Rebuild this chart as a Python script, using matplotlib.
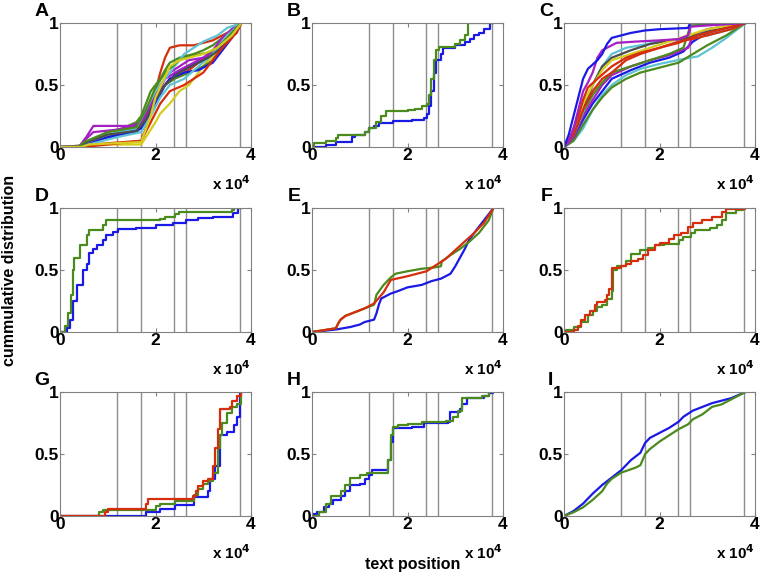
import matplotlib
matplotlib.use("Agg")
import matplotlib.pyplot as plt

plt.rcParams['font.family'] = ['Liberation Sans', 'DejaVu Sans']
plt.rcParams['font.weight'] = 'bold'

BLUE = '#1a1ae6'
GREEN = '#4b8b1e'
RED = '#d62d0c'
CYAN = '#5ec3d3'
PURPLE = '#a51fc4'
YELLOW = '#d6cc1c'
GRAY = '#4d4d4d'

# vertical reference positions (x 10^4)
vlines = [1.2, 1.7, 2.38, 2.64, 3.77]

# ---------------- Panel A ----------------
a1_x = [0, 0.4, 1.0, 1.7, 1.8, 1.9, 2.0, 2.1, 2.2, 2.3, 2.5, 2.8, 3.0, 3.2, 3.4, 3.6, 3.8]
a1_y = [0, 0.01, 0.03, 0.05, 0.15, 0.3, 0.45, 0.6, 0.72, 0.8, 0.82, 0.82, 0.84, 0.86, 0.9, 0.94, 1.0]
a2_x = [0, 0.4, 0.5, 1.0, 1.3, 1.5, 1.7, 1.8, 1.9, 2.0, 2.1, 2.3, 2.5, 2.7, 2.9, 3.1, 3.3, 3.5, 3.7, 3.8]
a2_y = [0, 0, 0.02, 0.08, 0.12, 0.16, 0.2, 0.23, 0.3, 0.38, 0.45, 0.55, 0.58, 0.62, 0.68, 0.72, 0.78, 0.85, 0.92, 1.0]
a3_x = [0, 0.4, 0.6, 1.7, 1.8, 2.0, 2.1, 2.3, 2.5, 2.7, 2.9, 3.1, 3.3, 3.5, 3.6, 3.8]
a3_y = [0, 0, 0.02, 0.02, 0.08, 0.2, 0.27, 0.35, 0.45, 0.5, 0.6, 0.7, 0.75, 0.85, 0.95, 1.0]
a4_x = [0, 0.4, 0.5, 0.8, 1.0, 1.3, 1.6, 1.7, 1.8, 1.9, 2.0, 2.1, 2.2, 2.3, 2.5, 2.8, 3.0, 3.2, 3.4, 3.6, 3.8]
a4_y = [0, 0, 0.02, 0.08, 0.12, 0.15, 0.2, 0.25, 0.35, 0.45, 0.5, 0.55, 0.62, 0.68, 0.72, 0.75, 0.78, 0.82, 0.88, 0.95, 1.0]
a5_x = [0, 0.4, 0.8, 1.2, 1.6, 1.8, 2.0, 2.2, 2.4, 2.7, 3.0, 3.2, 3.4, 3.6, 3.8]
a5_y = [0, 0.01, 0.06, 0.1, 0.15, 0.25, 0.4, 0.5, 0.55, 0.6, 0.65, 0.7, 0.8, 0.9, 1.0]
a6_x = [0, 0.4, 0.5, 0.9, 1.3, 1.7, 1.9, 2.1, 2.3, 2.6, 2.9, 3.2, 3.4, 3.6, 3.8]
a6_y = [0, 0, 0.02, 0.07, 0.1, 0.15, 0.3, 0.45, 0.55, 0.6, 0.62, 0.68, 0.78, 0.88, 1.0]
a7_x = [0, 0.45, 0.6, 1.0, 1.6, 1.8, 2.0, 2.2, 2.4, 2.7, 3.0, 3.2, 3.5, 3.8]
a7_y = [0, 0, 0.03, 0.08, 0.12, 0.2, 0.35, 0.5, 0.58, 0.65, 0.7, 0.75, 0.85, 1.0]
a8_x = [0, 0.4, 0.55, 0.7, 1.5, 1.7, 1.9, 2.1, 2.3, 2.5, 2.7, 3.0, 3.2, 3.4, 3.6, 3.8]
a8_y = [0, 0, 0.08, 0.17, 0.17, 0.2, 0.35, 0.5, 0.6, 0.65, 0.7, 0.72, 0.78, 0.88, 0.95, 1.0]
a9_x = [0, 0.4, 0.5, 0.7, 1.2, 1.7, 2.0, 2.2, 2.5, 2.8, 3.1, 3.4, 3.8]
a9_y = [0, 0, 0.05, 0.12, 0.14, 0.18, 0.4, 0.55, 0.62, 0.68, 0.74, 0.85, 1.0]
a10_x = [0, 0.4, 0.5, 1.0, 1.6, 1.8, 2.0, 2.2, 2.4, 2.6, 2.8, 3.0, 3.3, 3.5, 3.8]
a10_y = [0, 0, 0.03, 0.1, 0.15, 0.3, 0.45, 0.55, 0.65, 0.75, 0.8, 0.85, 0.9, 0.96, 1.0]
a11_x = [0, 0.45, 0.6, 1.2, 1.7, 1.9, 2.1, 2.3, 2.6, 2.9, 3.2, 3.5, 3.8]
a11_y = [0, 0, 0.02, 0.08, 0.12, 0.25, 0.4, 0.5, 0.55, 0.65, 0.75, 0.9, 1.0]
a12_x = [0, 0.4, 0.5, 1.0, 1.6, 1.8, 2.0, 2.2, 2.5, 2.8, 3.1, 3.4, 3.6, 3.8]
a12_y = [0, 0, 0.03, 0.1, 0.13, 0.22, 0.38, 0.5, 0.6, 0.66, 0.72, 0.8, 0.92, 1.0]
a13_x = [0, 0.4, 0.5, 1.0, 1.6, 1.8, 2.0, 2.2, 2.5, 2.8, 3.1, 3.3, 3.6, 3.8]
a13_y = [0, 0, 0.04, 0.12, 0.16, 0.3, 0.48, 0.6, 0.7, 0.74, 0.76, 0.8, 0.92, 1.0]
a14_x = [0, 0.5, 1.0, 1.7, 1.9, 2.1, 2.3, 2.6, 2.8, 3.0, 3.2, 3.4, 3.6, 3.8]
a14_y = [0, 0, 0.02, 0.05, 0.2, 0.35, 0.45, 0.5, 0.55, 0.6, 0.7, 0.8, 0.88, 1.0]
a15_x = [0, 0.45, 0.6, 1.7, 1.9, 2.0, 2.3, 2.5, 2.7, 3.0, 3.3, 3.6, 3.8]
a15_y = [0, 0, 0.02, 0.04, 0.25, 0.4, 0.65, 0.7, 0.72, 0.75, 0.8, 0.9, 1.0]

# ---------------- Panel B ----------------
b_blue_x = [0, 0.3, 0.5, 0.83, 0.9, 1.1, 1.2, 1.3, 1.4, 1.7, 2.1, 2.35, 2.4, 2.45, 2.5, 2.55, 2.6, 2.7, 2.75, 3.0, 3.2, 3.3, 3.4, 3.5, 3.6, 3.72, 3.8]
b_blue_y = [0, 0.02, 0.04, 0.08, 0.1, 0.12, 0.15, 0.17, 0.19, 0.21, 0.22, 0.23, 0.27, 0.33, 0.45, 0.6, 0.7, 0.75, 0.8, 0.82, 0.85, 0.87, 0.9, 0.92, 0.95, 1.0, 1.0]
b_green_x = [0, 0.05, 0.3, 0.5, 0.55, 1.0, 1.1, 1.2, 1.35, 1.45, 1.55, 2.0, 2.15, 2.3, 2.4, 2.45, 2.5, 2.55, 2.6, 2.65, 3.0, 3.1, 3.2, 3.27, 3.8]
b_green_y = [0, 0.03, 0.05, 0.07, 0.1, 0.1, 0.12, 0.15, 0.2, 0.25, 0.29, 0.3, 0.31, 0.33, 0.35, 0.42, 0.55, 0.7, 0.78, 0.81, 0.83, 0.86, 0.9, 1.0, 1.0]

# ---------------- Panel C ----------------
c1_x = [0, 0.1, 0.2, 0.3, 0.4, 0.5, 0.7, 0.8, 0.9, 1.0, 1.2, 1.4, 1.7, 2.0, 2.6, 2.64, 3.8]
c1_y = [0, 0.1, 0.25, 0.4, 0.55, 0.63, 0.7, 0.75, 0.83, 0.88, 0.9, 0.92, 0.94, 0.95, 0.96, 1.0, 1.0]
c2_x = [0, 0.1, 0.2, 0.3, 0.4, 0.5, 0.6, 0.7, 0.8, 1.1, 1.5, 2.0, 2.4, 2.6, 2.65, 3.0, 3.8]
c2_y = [0, 0.05, 0.15, 0.3, 0.45, 0.52, 0.6, 0.72, 0.78, 0.84, 0.85, 0.86, 0.87, 0.9, 0.97, 0.98, 1.0]
c3_x = [0, 0.1, 0.2, 0.3, 0.4, 0.5, 0.7, 1.0, 1.3, 1.6, 2.0, 2.4, 2.8, 3.2, 3.5, 3.8]
c3_y = [0, 0.05, 0.15, 0.25, 0.38, 0.48, 0.55, 0.65, 0.72, 0.76, 0.8, 0.85, 0.88, 0.92, 0.95, 1.0]
c4_x = [0, 0.2, 0.4, 0.6, 0.8, 1.0, 1.3, 1.6, 2.0, 2.4, 2.8, 3.2, 3.8]
c4_y = [0, 0.1, 0.3, 0.45, 0.55, 0.6, 0.7, 0.75, 0.8, 0.84, 0.9, 0.94, 1.0]
c5_x = [0, 0.2, 0.4, 0.6, 0.8, 1.0, 1.4, 1.8, 2.2, 2.6, 3.0, 3.8]
c5_y = [0, 0.12, 0.35, 0.5, 0.62, 0.7, 0.75, 0.8, 0.85, 0.9, 0.95, 1.0]
c6_x = [0, 0.2, 0.4, 0.6, 0.8, 1.0, 1.4, 1.8, 2.2, 2.6, 3.0, 3.8]
c6_y = [0, 0.1, 0.3, 0.5, 0.65, 0.72, 0.78, 0.83, 0.86, 0.88, 0.93, 1.0]
c7_x = [0, 0.2, 0.4, 0.6, 0.8, 1.0, 1.3, 1.6, 2.0, 2.5, 3.0, 3.5, 3.8]
c7_y = [0, 0.1, 0.28, 0.5, 0.65, 0.75, 0.8, 0.82, 0.85, 0.87, 0.9, 0.95, 1.0]
c8_x = [0, 0.2, 0.4, 0.6, 0.8, 1.0, 1.3, 1.6, 2.0, 2.5, 2.8, 3.1, 3.4, 3.8]
c8_y = [0, 0.05, 0.15, 0.3, 0.42, 0.5, 0.58, 0.63, 0.67, 0.71, 0.73, 0.8, 0.88, 1.0]
c9_x = [0, 0.2, 0.4, 0.6, 0.8, 1.0, 1.3, 1.6, 2.0, 2.4, 2.7, 3.0, 3.4, 3.8]
c9_y = [0, 0.05, 0.18, 0.3, 0.4, 0.48, 0.55, 0.6, 0.64, 0.68, 0.75, 0.82, 0.9, 1.0]
c10_x = [0, 0.2, 0.4, 0.6, 0.8, 1.0, 1.4, 1.8, 2.2, 2.5, 2.65, 3.8]
c10_y = [0, 0.1, 0.28, 0.42, 0.52, 0.6, 0.65, 0.7, 0.75, 0.8, 0.98, 1.0]
c11_x = [0, 0.2, 0.4, 0.6, 0.8, 1.0, 1.4, 1.8, 2.2, 2.5, 2.7, 3.0, 3.8]
c11_y = [0, 0.08, 0.22, 0.35, 0.45, 0.55, 0.62, 0.68, 0.72, 0.77, 0.85, 0.92, 1.0]
c12_x = [0, 0.2, 0.4, 0.6, 0.8, 1.0, 1.4, 1.8, 2.2, 2.6, 2.7, 3.0, 3.8]
c12_y = [0, 0.08, 0.25, 0.38, 0.5, 0.58, 0.65, 0.7, 0.74, 0.8, 0.9, 0.95, 1.0]

# ---------------- Panel D ----------------
d_green_x = [0, 0.1, 0.17, 0.22, 0.28, 0.3, 0.42, 0.57, 0.6, 0.9, 0.97, 2.1, 2.2, 2.4, 2.5, 3.6, 3.65, 3.8]
d_green_y = [0, 0.05, 0.15, 0.3, 0.5, 0.6, 0.7, 0.78, 0.82, 0.86, 0.9, 0.91, 0.93, 0.95, 0.97, 0.98, 1.0, 1.0]
d_blue_x = [0, 0.1, 0.14, 0.2, 0.28, 0.36, 0.49, 0.56, 0.6, 0.7, 0.77, 0.9, 0.97, 1.1, 1.22, 1.6, 2.0, 2.37, 2.64, 2.9, 3.2, 3.62, 3.72, 3.8]
d_blue_y = [0, 0.0, 0.03, 0.1, 0.25, 0.38, 0.5, 0.55, 0.64, 0.67, 0.7, 0.74, 0.78, 0.81, 0.83, 0.84, 0.86, 0.88, 0.9, 0.92, 0.93, 0.96, 1.0, 1.0]

# ---------------- Panel E ----------------
e_blue_x = [0, 0.5, 0.8, 1.0, 1.1, 1.3, 1.35, 1.4, 1.45, 1.55, 1.65, 1.8, 2.0, 2.3, 2.5, 2.7, 2.9, 3.0, 3.1, 3.2, 3.3, 3.4, 3.6, 3.8]
e_blue_y = [0, 0.02, 0.04, 0.06, 0.08, 0.1, 0.15, 0.22, 0.27, 0.29, 0.31, 0.33, 0.36, 0.38, 0.41, 0.43, 0.47, 0.53, 0.6, 0.67, 0.75, 0.8, 0.9, 1.0]
e_green_x = [0, 0.5, 0.55, 0.6, 0.7, 0.9, 1.1, 1.3, 1.35, 1.5, 1.65, 1.75, 2.0, 2.3, 2.55, 2.7, 2.72, 2.9, 3.1, 3.3, 3.5, 3.7, 3.8]
e_green_y = [0, 0.03, 0.07, 0.1, 0.13, 0.16, 0.19, 0.22, 0.3, 0.38, 0.44, 0.47, 0.49, 0.51, 0.52, 0.53, 0.57, 0.62, 0.67, 0.73, 0.8, 0.9, 1.0]
e_red_x = [0, 0.5, 0.55, 0.6, 0.7, 0.9, 1.1, 1.3, 1.5, 1.65, 2.0, 2.4, 2.6, 2.8, 3.0, 3.2, 3.4, 3.6, 3.8]
e_red_y = [0, 0.03, 0.07, 0.1, 0.13, 0.16, 0.19, 0.23, 0.32, 0.42, 0.45, 0.49, 0.54, 0.59, 0.66, 0.73, 0.8, 0.88, 1.0]

# ---------------- Panel F ----------------
f_red_x = [0, 0.1, 0.2, 0.3, 0.35, 0.45, 0.55, 0.65, 0.7, 0.85, 0.9, 0.95, 1.0, 1.2, 1.3, 1.4, 1.55, 1.65, 1.75, 1.9, 2.0, 2.2, 2.3, 2.45, 2.6, 2.7, 2.9, 3.1, 3.3, 3.4, 3.8]
f_red_y = [0, 0.0, 0.02, 0.05, 0.1, 0.14, 0.17, 0.22, 0.24, 0.26, 0.3, 0.35, 0.52, 0.53, 0.55, 0.57, 0.59, 0.62, 0.66, 0.7, 0.72, 0.75, 0.78, 0.8, 0.85, 0.88, 0.9, 0.93, 0.97, 0.99, 1.0]
f_green_x = [0, 0.05, 0.2, 0.35, 0.5, 0.6, 0.7, 0.8, 0.9, 1.0, 1.03, 1.1, 1.3, 1.4, 1.6, 1.75, 1.9, 2.1, 2.4, 2.5, 2.65, 2.75, 3.05, 3.2, 3.3, 3.4, 3.6, 3.75, 3.8]
f_green_y = [0, 0.02, 0.04, 0.08, 0.14, 0.17, 0.2, 0.22, 0.27, 0.33, 0.5, 0.53, 0.57, 0.63, 0.66, 0.68, 0.7, 0.71, 0.74, 0.77, 0.8, 0.82, 0.84, 0.86, 0.9, 0.96, 0.98, 1.0, 1.0]

# ---------------- Panel G ----------------
g_red_x = [0, 0.95, 1.0, 1.77, 1.8, 1.85, 2.78, 2.85, 2.9, 3.0, 3.1, 3.2, 3.25, 3.3, 3.35, 3.55, 3.6, 3.7, 3.8]
g_red_y = [0, 0.03, 0.06, 0.06, 0.1, 0.14, 0.16, 0.2, 0.24, 0.28, 0.3, 0.4, 0.55, 0.7, 0.86, 0.88, 0.93, 0.97, 1.0]
g_green_x = [0, 0.82, 0.9, 2.0, 2.1, 2.4, 2.8, 2.9, 3.0, 3.1, 3.2, 3.3, 3.35, 3.4, 3.5, 3.6, 3.7, 3.8]
g_green_y = [0, 0.03, 0.05, 0.08, 0.1, 0.12, 0.17, 0.22, 0.26, 0.28, 0.35, 0.55, 0.65, 0.75, 0.83, 0.88, 0.9, 1.0]
g_blue_x = [0, 1.8, 2.1, 2.4, 2.8, 3.1, 3.15, 3.25, 3.35, 3.5, 3.65, 3.7, 3.77, 3.8]
g_blue_y = [0, 0.03, 0.06, 0.09, 0.15, 0.2, 0.3, 0.4, 0.65, 0.68, 0.73, 0.8, 1.0, 1.0]

# ---------------- Panel H ----------------
h_blue_x = [0, 0.1, 0.25, 0.35, 0.45, 0.6, 0.7, 0.8, 1.0, 1.1, 1.2, 1.25, 1.6, 1.65, 1.7, 2.1, 2.35, 2.85, 2.9, 3.1, 3.15, 3.25, 3.6, 3.7, 3.8]
h_blue_y = [0.02, 0.03, 0.07, 0.1, 0.13, 0.16, 0.2, 0.25, 0.26, 0.3, 0.33, 0.37, 0.45, 0.6, 0.71, 0.72, 0.75, 0.76, 0.84, 0.86, 0.9, 0.95, 0.97, 0.99, 1.0]
h_green_x = [0, 0.1, 0.15, 0.3, 0.4, 0.6, 0.7, 0.8, 1.0, 1.15, 1.6, 1.65, 1.7, 1.8, 2.0, 2.3, 2.8, 2.95, 3.05, 3.15, 3.55, 3.7, 3.8]
h_green_y = [0, 0.0, 0.03, 0.1, 0.16, 0.2, 0.25, 0.31, 0.33, 0.35, 0.45, 0.65, 0.72, 0.73, 0.74, 0.76, 0.77, 0.8, 0.85, 0.95, 0.97, 1.0, 1.0]

# ---------------- Panel I ----------------
i_blue_x = [0, 0.2, 0.4, 0.6, 0.8, 0.9, 1.0, 1.2, 1.4, 1.6, 1.7, 1.8, 2.0, 2.2, 2.4, 2.5, 2.7, 2.9, 3.1, 3.3, 3.5, 3.8]
i_blue_y = [0, 0.04, 0.1, 0.18, 0.25, 0.28, 0.31, 0.37, 0.45, 0.51, 0.59, 0.63, 0.67, 0.71, 0.76, 0.8, 0.85, 0.88, 0.91, 0.93, 0.95, 1.0]
i_green_x = [0, 0.2, 0.4, 0.6, 0.8, 0.9, 1.0, 1.2, 1.5, 1.6, 1.7, 1.8, 2.0, 2.2, 2.4, 2.6, 2.7, 2.9, 3.1, 3.3, 3.5, 3.8]
i_green_y = [0, 0.03, 0.07, 0.13, 0.2, 0.26, 0.3, 0.35, 0.39, 0.41, 0.5, 0.54, 0.6, 0.65, 0.7, 0.74, 0.78, 0.82, 0.88, 0.9, 0.94, 1.0]

panel_letters = ['A', 'B', 'C', 'D', 'E', 'F', 'G', 'H', 'I']
x_ticks = [0, 2, 4]
x_tick_labels = ['0', '2', '4']
y_ticks = [0, 0.5, 1]
y_tick_labels = ['0', '0.5', '1']

panels = [
    ([(a1_x, a1_y, RED), (a2_x, a2_y, RED), (a3_x, a3_y, YELLOW), (a4_x, a4_y, GREEN),
      (a5_x, a5_y, GREEN), (a6_x, a6_y, BLUE), (a7_x, a7_y, BLUE), (a8_x, a8_y, PURPLE),
      (a9_x, a9_y, PURPLE), (a10_x, a10_y, CYAN), (a11_x, a11_y, CYAN), (a12_x, a12_y, GRAY),
      (a13_x, a13_y, GREEN), (a14_x, a14_y, RED), (a15_x, a15_y, YELLOW)], 'linear'),
    ([(b_blue_x, b_blue_y, BLUE), (b_green_x, b_green_y, GREEN)], 'steps'),
    ([(c8_x, c8_y, CYAN), (c9_x, c9_y, GREEN), (c11_x, c11_y, BLUE), (c12_x, c12_y, PURPLE),
      (c10_x, c10_y, GREEN), (c7_x, c7_y, CYAN), (c6_x, c6_y, GRAY), (c5_x, c5_y, YELLOW),
      (c4_x, c4_y, RED), (c3_x, c3_y, RED), (c2_x, c2_y, PURPLE), (c1_x, c1_y, BLUE)], 'linear'),
    ([(d_blue_x, d_blue_y, BLUE), (d_green_x, d_green_y, GREEN)], 'steps'),
    ([(e_blue_x, e_blue_y, BLUE), (e_green_x, e_green_y, GREEN), (e_red_x, e_red_y, RED)], 'linear'),
    ([(f_green_x, f_green_y, GREEN), (f_red_x, f_red_y, RED)], 'steps'),
    ([(g_blue_x, g_blue_y, BLUE), (g_green_x, g_green_y, GREEN), (g_red_x, g_red_y, RED)], 'steps'),
    ([(h_blue_x, h_blue_y, BLUE), (h_green_x, h_green_y, GREEN)], 'steps'),
    ([(i_blue_x, i_blue_y, BLUE), (i_green_x, i_green_y, GREEN)], 'linear'),
]

W, H = 763, 577
fig = plt.figure(figsize=(W / 100, H / 100), dpi=100)
col_left = [60, 312, 564]
row_top = [23, 208, 392]
aw, ah = 191, 124

for idx, (series, style) in enumerate(panels):
    r, c = divmod(idx, 3)
    left = col_left[c] / W
    bottom = 1 - (row_top[r] + ah) / H
    ax = fig.add_axes([left, bottom, aw / W, ah / H])
    for v in vlines:
        ax.axvline(v, color='#8c8c8c', lw=1.0, zorder=1)
    for xs, ys, col in series:
        if style == 'steps':
            ax.plot(xs, ys, color=col, lw=1.6, drawstyle='steps-post', zorder=2)
        else:
            ax.plot(xs, ys, color=col, lw=1.6, zorder=2)
    ax.set_xlim(0, 4)
    ax.set_ylim(0, 1)
    ax.set_xticks(x_ticks)
    ax.set_xticklabels(x_tick_labels)
    ax.set_yticks(y_ticks)
    ax.set_yticklabels(y_tick_labels)
    ax.tick_params(direction='in', length=3, width=0.8, color='#808080',
                   top=True, right=True, labelsize=12.5, pad=1)
    for lab in ax.get_xticklabels() + ax.get_yticklabels():
        lab.set_fontweight('bold')
    for sp in ax.spines.values():
        sp.set_color('#808080')
        sp.set_linewidth(0.8)
    ax.text(-11 / aw, 1 + 3 / ah, panel_letters[idx], transform=ax.transAxes,
            fontsize=14, fontweight='bold', ha='right', va='bottom')
    ax.text(1.0, -37 / ah, r'x 10$^{\mathbf{4}}$', transform=ax.transAxes,
            fontsize=11, fontweight='bold', ha='right', va='center')

fig.text(10 / W, 1 - 270 / H, 'cummulative distribution', rotation=90,
         ha='center', va='center', fontsize=11.5, fontweight='bold')
fig.text(413 / W, 1 - 565 / H, 'text position', ha='center', va='center',
         fontsize=11.5, fontweight='bold')

fig.savefig('out.png', dpi=100)
